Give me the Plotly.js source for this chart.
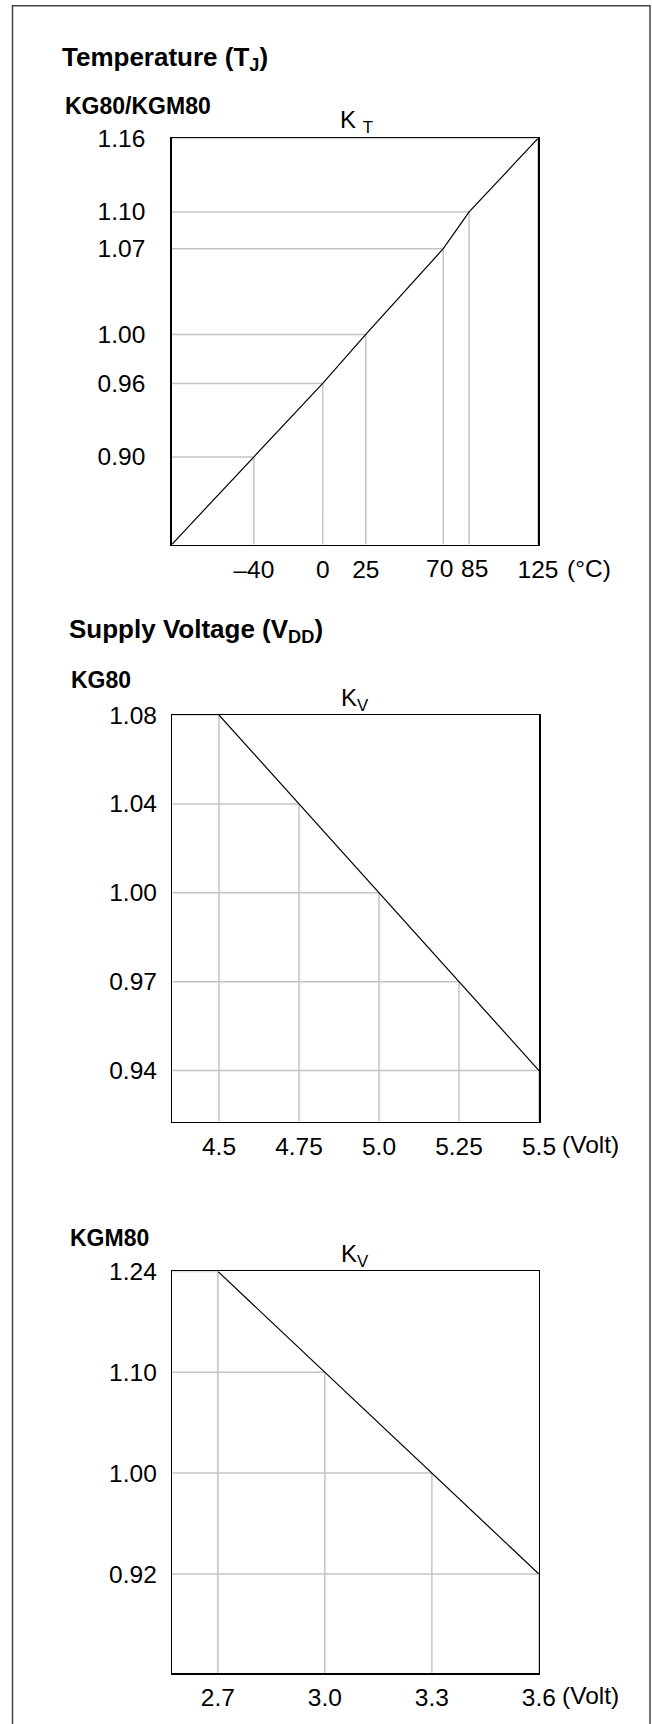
<!DOCTYPE html>
<html>
<head>
<meta charset="utf-8">
<script src="https://cdn.plot.ly/plotly-3.0.1.min.js"></script>
<style>
  html, body { margin: 0; padding: 0; background: #fff; }
  #chart { width: 652px; height: 1724px; }
</style>
</head>
<body>
<div id="chart"></div>
<script>
// ---- Data ----
// Temperature (TJ), KG80/KGM80
const tempC      = [-40, 0, 25, 70, 85, 125];
const kT         = [0.90, 0.96, 1.00, 1.07, 1.10, 1.16];
const tempLabels = ['–40', '0', '25', '70', '85', '125'];

// Supply voltage (VDD), KG80
const vddKG80       = [4.5, 4.75, 5.0, 5.25, 5.5];
const kvKG80        = [1.08, 1.04, 1.00, 0.97, 0.94];
const vddKG80Labels = ['4.5', '4.75', '5.0', '5.25', '5.5'];

// Supply voltage (VDD), KGM80
const vddKGM80       = [2.7, 3.0, 3.3, 3.6];
const kvKGM80        = [1.24, 1.10, 1.00, 0.92];
const vddKGM80Labels = ['2.7', '3.0', '3.3', '3.6'];

// ---- Layout helpers ----
const W = 652, H = 1724;
const FONT = 'Liberation Sans, Arial, Helvetica, sans-serif';
const TICK = 24.5;
const px = x => x / W;
const py = y => 1 - y / H;

const T_RANGE  = [-87.7, 125];
const KT_RANGE = [0.8285, 1.16];
const V1_RANGE = [4.354, 5.5];
const V2_RANGE = [2.572, 3.6];

const cats1 = kvKG80.map(v => v.toFixed(2)).sort();
const cats2 = kvKGM80.map(v => v.toFixed(2)).sort();
const CY1_RANGE = [-0.574, cats1.length - 1];
const CY2_RANGE = [-0.985, cats2.length - 1];

// line for KT extended back to the axis corner along its first segment
const s0 = (kT[1] - kT[0]) / (tempC[1] - tempC[0]);
const ktLineX = [T_RANGE[0]].concat(tempC);
const ktLineY = [kT[0] + s0 * (T_RANGE[0] - tempC[0])].concat(kT);

const traces = [
  { x: ktLineX, y: ktLineY, xaxis: 'x', yaxis: 'y', mode: 'lines',
    line: { color: '#000', width: 1.2 }, hoverinfo: 'skip', showlegend: false },
  { x: vddKG80, y: kvKG80.map(v => v.toFixed(2)), xaxis: 'x2', yaxis: 'y2', mode: 'lines',
    line: { color: '#000', width: 1.2 }, hoverinfo: 'skip', showlegend: false },
  { x: vddKGM80, y: kvKGM80.map(v => v.toFixed(2)), xaxis: 'x3', yaxis: 'y3', mode: 'lines',
    line: { color: '#000', width: 1.2 }, hoverinfo: 'skip', showlegend: false }
];

const GRID = { color: '#c4c4c4', width: 1.5 };
const shapes = [];
function dropLines(xs, ys, xref, yref, xMin, yMin) {
  xs.forEach((x, i) => {
    shapes.push({ type: 'line', xref, yref, x0: xMin, x1: x, y0: ys[i], y1: ys[i], line: GRID, layer: 'below' });
    shapes.push({ type: 'line', xref, yref, x0: x, x1: x, y0: yMin, y1: ys[i], line: GRID, layer: 'below' });
  });
}
dropLines(tempC, kT, 'x', 'y', T_RANGE[0], KT_RANGE[0]);
dropLines(vddKG80, kvKG80.map(v => cats1.indexOf(v.toFixed(2))), 'x2', 'y2', V1_RANGE[0], CY1_RANGE[0]);
dropLines(vddKGM80, kvKGM80.map(v => cats2.indexOf(v.toFixed(2))), 'x3', 'y3', V2_RANGE[0], CY2_RANGE[0]);

// outer frame
shapes.push({ type: 'rect', xref: 'paper', yref: 'paper',
  x0: px(12.5), x1: px(650), y0: py(1760), y1: py(5.7),
  line: { color: '#444', width: 1.5 }, layer: 'above' });

function axis(extra) {
  return Object.assign({
    showline: true, mirror: true, linecolor: '#000', linewidth: 1.5,
    showgrid: false, zeroline: false, ticks: '', fixedrange: true,
    tickfont: { family: FONT, size: TICK, color: '#000' }
  }, extra);
}

function ann(text, x, y, size, bold, extra) {
  return Object.assign({
    text, x: px(x), y: py(y), xref: 'paper', yref: 'paper',
    xanchor: 'left', yanchor: 'middle', showarrow: false,
    font: { family: FONT, size, color: '#000', weight: bold ? 'bold' : 'normal' }
  }, extra || {});
}

function xLabelAnn(text, xref, x, y, xshift, xanchor) {
  return { text, xref, x, xshift, xanchor,
    yref: 'paper', y: py(y), yanchor: 'middle', showarrow: false,
    font: { family: FONT, size: TICK, color: '#000' } };
}

// tick labels of the temperature axis: the crowded 70 / 85 pair is drawn
// as annotations nudged apart, the others as normal tick labels
const crowded = [3, 4];
const tempTickText = tempLabels.map((t, i) => crowded.includes(i) ? '' : t);

const annotations = [
  ann('Temperature (T<sub>J</sub>)', 60, 59, 26, true),
  ann('KG80/KGM80', 63, 106, 23, true),
  ann('K <sub>T</sub>', 357, 122, 24, false, { xanchor: 'center' }),
  ann('Supply Voltage (V<sub>DD</sub>)', 67, 630, 26, true),
  ann('KG80', 69, 680, 23, true),
  ann('K<sub>V</sub>', 355, 699, 24, false, { xanchor: 'center' }),
  ann('KGM80', 68, 1238, 23, true),
  ann('K<sub>V</sub>', 355, 1255, 24, false, { xanchor: 'center' }),
  xLabelAnn(tempLabels[3], 'x', tempC[3], 568, -4, 'center'),
  xLabelAnn(tempLabels[4], 'x', tempC[4], 568, 5, 'center'),
  xLabelAnn('(°C)', 'x', tempC[tempC.length - 1], 568, 27, 'left'),
  xLabelAnn('(Volt)', 'x2', vddKG80[vddKG80.length - 1], 1144, 21, 'left'),
  xLabelAnn('(Volt)', 'x3', vddKGM80[vddKGM80.length - 1], 1695, 21, 'left')
];

const layout = {
  width: W, height: H, autosize: false,
  margin: { l: 0, r: 0, t: 0, b: 0, pad: 0 },
  paper_bgcolor: '#fff', plot_bgcolor: '#fff',
  showlegend: false,
  xaxis: axis({ domain: [px(171.7), px(538)], anchor: 'y', range: T_RANGE, tickangle: 0,
    tickmode: 'array', tickvals: tempC, ticktext: tempTickText, ticklabelstandoff: 3 }),
  yaxis: axis({ domain: [py(544.5), py(138.4)], anchor: 'x', range: KT_RANGE,
    tickmode: 'array', tickvals: kT, ticktext: kT.map(v => v.toFixed(2)), ticklabelstandoff: 20 }),
  xaxis2: axis({ domain: [px(172.3), px(539)], anchor: 'y2', range: V1_RANGE, tickangle: 0,
    tickmode: 'array', tickvals: vddKG80, ticktext: vddKG80Labels, ticklabelstandoff: 2 }),
  yaxis2: axis({ domain: [py(1121.6), py(715)], anchor: 'x2', type: 'category',
    categoryorder: 'array', categoryarray: cats1, range: CY1_RANGE, ticklabelstandoff: 9 }),
  xaxis3: axis({ domain: [px(172.2), px(538.9)], anchor: 'y3', range: V2_RANGE, tickangle: 0,
    tickmode: 'array', tickvals: vddKGM80, ticktext: vddKGM80Labels, ticklabelstandoff: 2 }),
  yaxis3: axis({ domain: [py(1673.3), py(1271.4)], anchor: 'x3', type: 'category',
    categoryorder: 'array', categoryarray: cats2, range: CY2_RANGE, ticklabelstandoff: 9 }),
  shapes, annotations
};

Plotly.newPlot('chart', traces, layout, { staticPlot: true, displayModeBar: false });
</script>
</body>
</html>
